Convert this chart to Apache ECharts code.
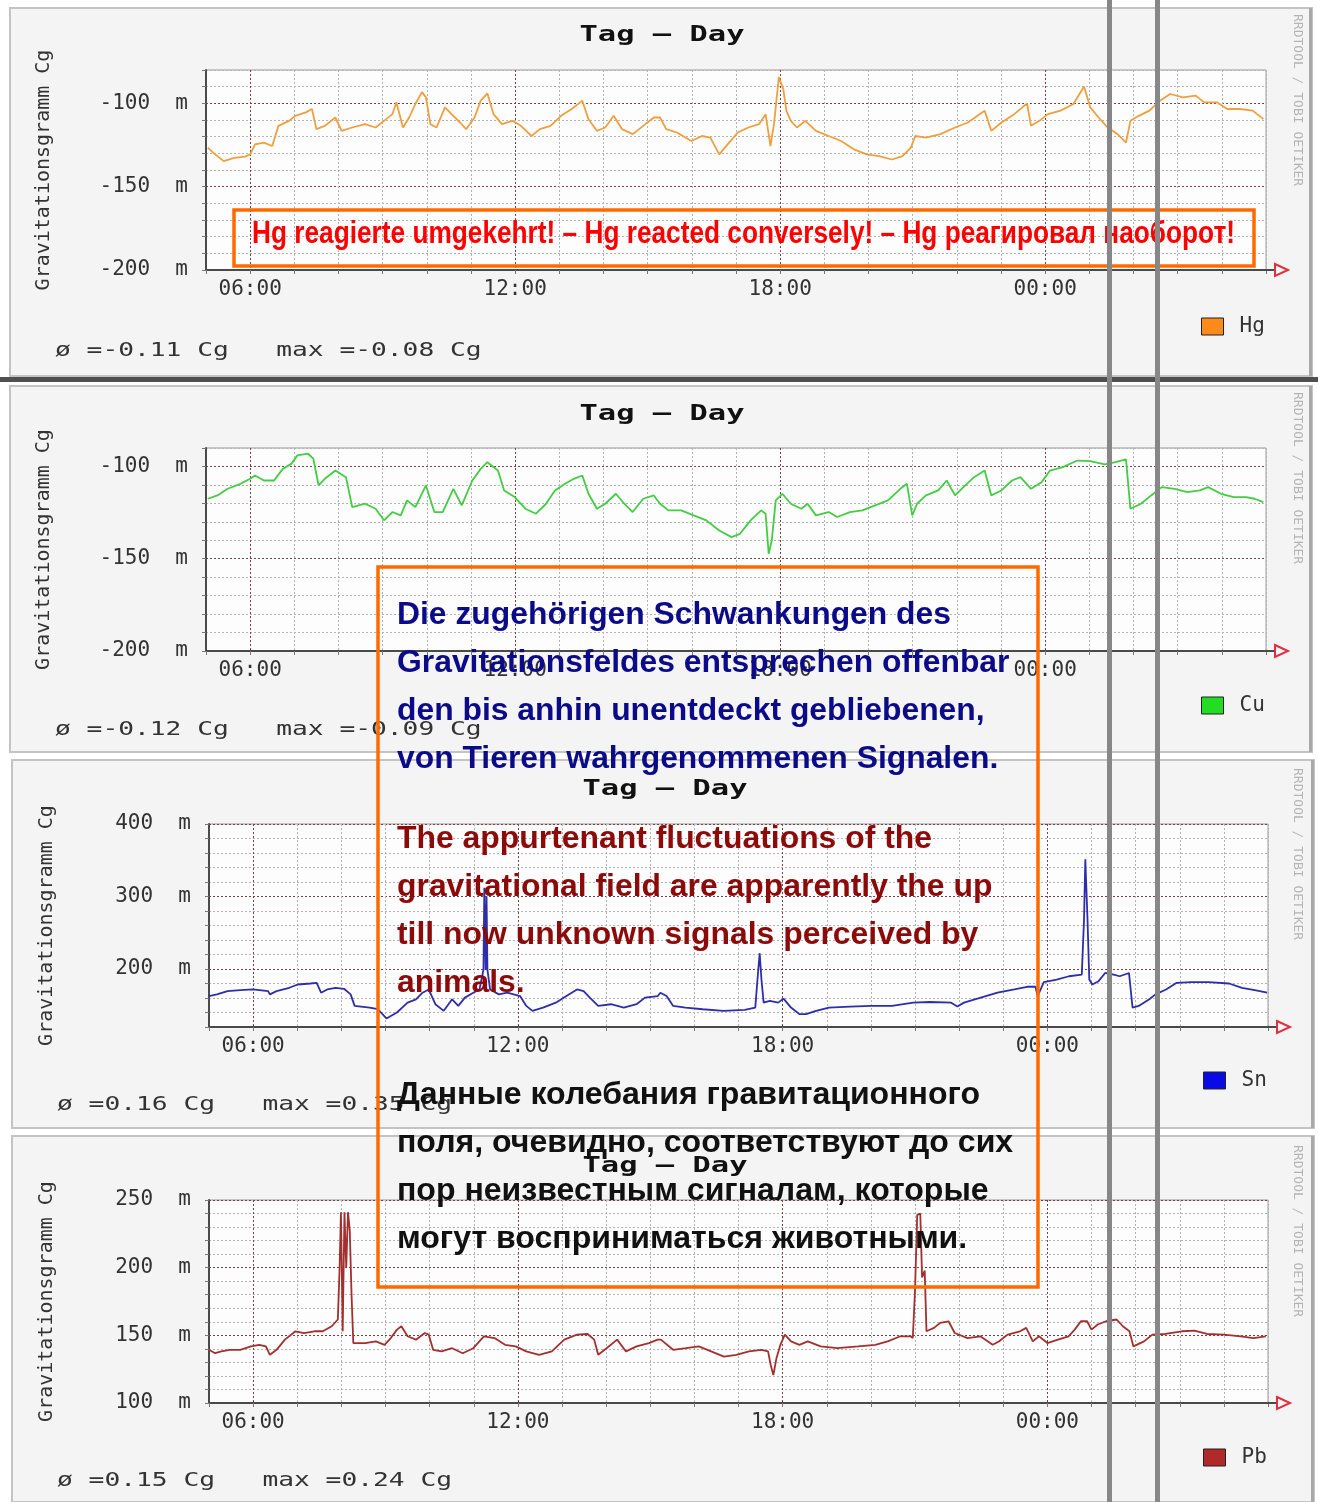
<!DOCTYPE html>
<html><head><meta charset="utf-8">
<script src="https://cdn.jsdelivr.net/npm/echarts@6/dist/echarts.min.js"></script>
<style>html,body{margin:0;padding:0;background:#fff}#c{width:1318px;height:1502px}</style>
</head><body><div id="c"></div><script>
// ---------------- DATA ----------------
const seriesNames = ['Hg', 'Cu', 'Sn', 'Pb'];
const hourLabels = ['06:00', '12:00', '18:00', '00:00'];

const hgHours = [5.04,5.16,5.40,5.64,5.88,6.00,6.11,6.31,6.50,6.64,6.88,7.02,7.26,7.40,7.50,7.69,7.93,8.07,8.31,8.60,8.84,9.03,9.22,9.31,9.46,9.60,9.74,9.89,9.98,10.08,10.22,10.41,10.60,10.75,10.89,11.08,11.22,11.37,11.51,11.70,11.94,12.13,12.37,12.56,12.80,13.04,13.28,13.52,13.66,13.85,14.04,14.23,14.42,14.66,14.90,15.14,
 15.28,15.42,15.66,15.99,16.23,16.42,16.62,16.81,17.04,17.28,17.52,17.67,17.78,17.86,17.97,18.07,18.14,18.24,18.38,18.57,18.81,19.10,19.38,19.67,19.96,20.24,20.53,20.77,20.96,21.06,21.30,21.63,21.96,22.25,22.63,22.78,23.01,23.30,23.59,23.68,23.87,24.06,24.35,24.64,24.88,25.02,25.21,25.40,25.64,25.83,25.93,26.12,26.36,26.60,26.83,27.12,27.41,27.60,27.89,28.12,28.41,28.70,28.94];
const hgValues = [-126.6,-129.6,-134.7,-132.7,-132,-130.6,-124.6,-123.6,-125.6,-113.5,-110.5,-107.5,-105.4,-103.4,-115.5,-113.5,-108.5,-116.5,-114.5,-112.5,-114.5,-110.5,-106.5,-99.4,-114.5,-108.5,-100.4,-93.3,-96.4,-112.5,-114.5,-102.4,-107.5,-111.5,-115.5,-108.5,-98.4,-94,-106.5,-112.5,-110.5,-113.5,-119.6,-115.5,-113.5,-107.5,-103.4,-98.4,-109.5,-116.5,-114.5,-107.5,-115.5,-118.5,-113.5,-108.5,
 -108.5,-115.5,-117.5,-122.6,-119.6,-120.6,-130.6,-124.6,-117.5,-114.5,-112.5,-106.5,-125.6,-112.5,-84.3,-91.3,-104.4,-110.5,-114.5,-110.5,-116.5,-119.6,-122.6,-127.6,-130.6,-131.7,-133.7,-131.7,-126.6,-119.6,-120.6,-118.5,-114.5,-111.5,-104.4,-116.5,-111.5,-106.5,-100,-113.5,-110.5,-106.5,-104.4,-100.4,-89.9,-102.4,-108.5,-114.1,-118.5,-123.6,-110.5,-107.5,-104.4,-98.4,-94.4,-96.4,-95.4,-99.4,-99.4,-103.4,-103.4,-104.4,-109.5];

const cuHours = [5.04,5.26,5.49,5.78,6.00,6.11,6.31,6.54,6.74,6.93,7.07,7.31,7.43,7.55,7.69,7.93,8.17,8.31,8.60,8.84,9.03,9.22,9.41,9.55,9.74,9.98,10.17,10.36,10.60,10.79,11.03,11.22,11.37,11.61,11.75,11.99,12.23,12.47,12.70,12.90,13.13,13.33,13.52,13.66,13.85,14.04,14.28,14.47,14.66,14.90,15.14,
 15.28,15.47,15.76,16.04,16.33,16.62,16.90,17.09,17.33,17.57,17.67,17.74,17.81,17.90,18.05,18.24,18.48,18.62,18.81,19.10,19.29,19.58,19.86,20.15,20.44,20.72,20.87,20.99,21.10,21.30,21.58,21.77,21.96,22.15,22.39,22.63,22.78,23.01,23.25,23.44,23.68,23.92,24.11,24.40,24.73,25.02,25.35,25.59,25.83,25.93,26.17,26.40,26.64,26.93,27.22,27.50,27.69,27.98,28.27,28.55,28.74,28.94];
const cuValues = [-117.5,-115.7,-112.1,-109.4,-106.7,-104.9,-107.6,-107.6,-101.3,-98.6,-94,-93.1,-95.8,-110.3,-106.7,-102.2,-105.8,-122,-120.2,-122.9,-129.2,-124.7,-126.5,-118.4,-122,-110.3,-124.7,-124.7,-112.1,-121.1,-107.6,-101.3,-97.7,-102.2,-113,-116.6,-122.9,-125.6,-120.2,-113,-109.4,-106.7,-104.9,-114.8,-122.9,-120.2,-114.8,-120.2,-124.7,-117.5,-115.7,
 -120.2,-123.8,-123.8,-126.5,-129.2,-134.7,-138.3,-136.5,-129.2,-123.8,-125.6,-147.3,-140.1,-118.4,-114.8,-120.2,-122.9,-120.2,-126.5,-124.7,-127.4,-124.7,-123.8,-121.1,-118.4,-112.1,-109.4,-126.5,-120.2,-115.7,-113,-107.6,-115.7,-111.2,-105.8,-102.2,-115.7,-113,-107.6,-105.8,-112.1,-108.5,-102.2,-100.4,-96.8,-97.1,-98.9,-97.7,-96.2,-122.9,-120.2,-115.7,-111.2,-112.1,-113.9,-113,-111.2,-114.8,-116.6,-116.6,-117.5,-119.3];

const snHours = [5.00,5.18,5.42,5.71,6.00,6.34,6.38,6.53,6.82,7.01,7.30,7.44,7.54,7.68,7.87,8.06,8.21,8.30,8.64,8.83,9.02,9.26,9.50,9.69,9.84,9.98,10.13,10.32,10.51,10.65,10.80,10.99,11.13,11.22,11.24,11.27,11.29,11.31,11.37,11.57,11.76,12.05,12.19,12.33,12.57,12.86,13.10,13.34,13.49,13.63,13.82,14.11,14.40,14.69,14.88,15.17,
 15.23,15.37,15.52,15.80,16.19,16.66,17.14,17.38,17.43,17.48,17.52,17.57,17.71,17.90,18.02,18.19,18.38,18.53,18.76,19.05,19.53,20.01,20.48,20.96,21.34,21.82,21.96,22.11,22.49,22.87,23.25,23.54,23.73,23.78,23.92,24.21,24.49,24.78,24.83,24.86,24.91,24.95,25.02,25.16,25.31,25.50,25.64,25.85,25.93,26.07,26.31,26.45,26.69,26.93,27.26,27.65,28.12,28.41,28.70,28.98];
const snValues = [162.7,165,169.5,170.9,171.8,169.5,165,169.5,174.1,178.6,180,180.9,167.3,171.8,174.1,172.7,165,149.1,146.8,144.5,131.8,140,153.6,158.2,167.3,171.8,151.4,142.3,158.2,149.1,160.5,167.3,171.8,199,312,199,300,199,171.8,165,167.3,162.7,149.1,142.3,146.8,153.6,162.7,171.8,169.5,160.5,149.1,151.4,146.8,151.4,160.5,162.7,
 167.3,162.7,149.1,146.8,144.5,142.3,143.6,146.8,185.5,221.8,185.5,153.6,155.9,153.6,159.1,146.8,137.7,137.7,142.3,146.8,148.2,149.1,149.1,153.6,154.5,153.6,148.2,153.6,160.5,167.3,171.8,175.5,175.5,162.7,181.8,185.5,190,192.3,267.3,351.4,267.3,185.5,178.6,183.2,194.5,192.3,190,194.5,146.8,149.1,158.2,165,171.8,180.9,181.8,181.8,180,174.1,170.9,167.3];

const pbHours = [5.00,5.14,5.28,5.47,5.71,5.95,6.14,6.29,6.38,6.53,6.72,6.96,7.15,7.39,7.58,7.78,7.92,7.96,7.99,8.03,8.07,8.11,8.15,8.19,8.23,8.27,8.54,8.78,8.98,9.12,9.26,9.36,9.50,9.69,9.89,9.98,10.08,10.27,10.51,10.75,10.99,11.23,11.47,11.71,11.95,12.19,12.48,12.77,13.05,13.34,13.58,13.73,13.82,14.01,14.25,14.45,14.69,14.97,15.17,
 15.24,15.52,15.81,16.10,16.38,16.67,16.95,17.24,17.52,17.67,17.73,17.79,17.86,17.95,18.05,18.19,18.38,18.57,18.86,19.24,19.71,20.10,20.38,20.67,20.90,20.95,21.00,21.05,21.12,21.16,21.22,21.26,21.43,21.57,21.76,21.90,22.19,22.48,22.76,22.90,23.10,23.38,23.52,23.67,23.81,24.00,24.24,24.48,24.62,24.76,24.90,25.00,25.14,25.33,25.57,25.71,25.86,25.95,26.19,26.38,26.67,27.05,27.33,27.62,28.00,28.38,28.67,28.95];
const pbValues = [139.3,136.8,138.1,139.3,139.3,141.8,143,141.8,135.6,139.3,146.8,153,151.7,153,153,156.7,161.7,200,241,153,241,200,241,227.6,180.3,144.3,144.3,145.5,143,148,154.2,156.7,149.3,146.8,151.7,150.5,139.3,138.1,140.5,136.8,140.5,149.3,148,143,141.8,138.1,135.6,138.1,146.8,150.5,151,146.8,135.6,140.5,146.8,138.1,141.8,144.3,146.8,
 146.8,139.3,140.5,141.8,138.1,134.3,135.6,138.1,139.3,138.1,128.1,120.6,133.1,143,150.5,145.5,143,145.5,141.8,140.5,141.8,143,145.5,149.3,149.3,148,182.8,238.8,240,192.8,197.8,153,155.5,159.2,160.4,151.7,148,149.3,143,145.5,150.5,153,155.5,145.5,149.3,144.3,146.8,149.3,154.2,160.4,160.4,154.2,158,160.4,161.7,156.7,153,141.8,145.5,150.5,151,153,153.5,151,150.5,149.3,148,149.3];

// y ranges: [min, max, grid step, labelled step]
const yRangeHg = [-200, -80, 10, 50];
const yRangeCu = [-200, -90, 10, 50];
const yRangeSn = [120, 400, 20, 100];
const yRangePb = [100, 250, 10, 50];

const statsTexts = ['ø =-0.11 Cg   max =-0.08 Cg', 'ø =-0.12 Cg   max =-0.09 Cg', 'ø =0.16 Cg   max =0.35 Cg', 'ø =0.15 Cg   max =0.24 Cg'];
const chartTitle = 'Tag – Day';
const axisTitle = 'Gravitationsgramm Cg';
const creditText = 'RRDTOOL / TOBI OETIKER';
const noteHg = 'Hg reagierte umgekehrt! – Hg reacted conversely! – Hg реагировал наоборот!';
const noteDe = ['Die zugehörigen Schwankungen des', 'Gravitationsfeldes entsprechen offenbar', 'den bis anhin unentdeckt gebliebenen,', 'von Tieren wahrgenommenen Signalen.'];
const noteEn = ['The appurtenant fluctuations of the', 'gravitational field are apparently the up', 'till now unknown signals perceived by', 'animals.'];
const noteRu = ['Данные колебания гравитационного', 'поля, очевидно, соответствуют до сих', 'пор неизвестным сигналам, которые', 'могут восприниматься животными.'];

// ---------------- LAYOUT / STYLE ----------------
const seriesHours = [hgHours, cuHours, snHours, pbHours];
const seriesValues = [hgValues, cuValues, snValues, pbValues];
const yRanges = [yRangeHg, yRangeCu, yRangeSn, yRangePb];
const lineColors = ['#eea040', '#44cc44', '#2e2eaa', '#a33030'];
const legendColors = ['#ff8a1c', '#22dd22', '#0a0ae6', '#b02a2a'];
const layout = [
  {panel: [10, 8, 1302, 368], grid: [206, 70, 1060, 200], titleX: 662, titleY: 35, statsX: 55, statsY: 351, legend: [1196, 311], creditY: 14},
  {panel: [10, 386, 1302, 366], grid: [206, 448, 1060, 203], titleX: 662, titleY: 414, statsX: 55, statsY: 730, legend: [1196, 690], creditY: 392},
  {panel: [12, 760, 1302, 368], grid: [209, 824, 1059, 203], titleX: 665, titleY: 789, statsX: 57, statsY: 1105, legend: [1198, 1065], creditY: 768},
  {panel: [12, 1136, 1302, 366], grid: [209, 1200, 1059, 203], titleX: 665, titleY: 1166, statsX: 57, statsY: 1481, legend: [1198, 1442], creditY: 1145}
];
const MONO = '"DejaVu Sans Mono", "Liberation Mono", monospace';
const minorCol = '#b4b4b4', majorCol = '#7e4040';

const mctx = document.createElement('canvas').getContext('2d');
function fitScale(text, font, target) { mctx.font = font; const w = mctx.measureText(text).width; return w ? target / w : 1; }
const isMul = (v, m) => Math.abs(((v % m) + m) % m) < 1e-6;

const chart = echarts.init(document.getElementById('c'), null, {renderer: 'canvas'});

const grids = layout.map(L => ({left: L.grid[0], top: L.grid[1], width: L.grid[2], height: L.grid[3], show: true,
  backgroundColor: '#fdfdfd', borderColor: '#9a9a9a', borderWidth: 1, containLabel: false, outerBoundsMode: 'none'}));

const xCycle = [];
for (let h = 5; h < 11; h++) xCycle.push(h % 6 === 0 ? majorCol : minorCol);

const xAxes = layout.map((L, i) => ({
  type: 'value', gridIndex: i, min: 5, max: 29, interval: 1,
  axisLine: {show: true, lineStyle: {color: '#4a4a4a', width: 2}},
  axisTick: {show: true, length: 4, lineStyle: {color: '#777'}},
  axisLabel: {margin: 9, fontFamily: MONO, fontSize: 21, color: '#333',
    formatter: v => (v % 6 === 0 ? hourLabels[(v / 6 - 1) % 4] : '')},
  splitLine: {show: true, lineStyle: {type: [2, 2], color: xCycle, width: 1}}
}));

const yAxes = yRanges.map((r, i) => {
  const cyc = [];
  const n = r[3] / r[2];
  for (let k = 0; k < n; k++) cyc.push(isMul(r[0] + k * r[2], r[3]) ? majorCol : minorCol);
  return {
    type: 'value', gridIndex: i, min: r[0], max: r[1], interval: r[2],
    name: axisTitle, nameLocation: 'middle', nameGap: 152, nameRotate: 90,
    nameTextStyle: {fontFamily: MONO, fontSize: 20, color: '#333'},
    axisLine: {show: true, lineStyle: {color: '#4a4a4a', width: 2}},
    axisTick: {show: true, length: 4, lineStyle: {color: '#777'}},
    axisLabel: {margin: 18, fontFamily: MONO, fontSize: 21, color: '#333',
      formatter: v => (isMul(v, r[3]) ? v + '  m' : '')},
    splitLine: {show: true, lineStyle: {type: [2, 2], color: cyc, width: 1}}
  };
});

const series = seriesNames.map((name, i) => ({
  name, type: 'line', xAxisIndex: i, yAxisIndex: i, showSymbol: false, symbol: 'none',
  color: lineColors[i], lineStyle: {color: lineColors[i], width: 1.8}, z: 3,
  data: seriesHours[i].map((h, k) => [h, seriesValues[i][k]])
}));

const legends = layout.map((L, i) => ({
  data: [{name: seriesNames[i], itemStyle: {color: legendColors[i], borderColor: '#222', borderWidth: 1}}],
  left: L.legend[0], top: L.legend[1], icon: 'rect', itemWidth: 22, itemHeight: 17, selectedMode: false,
  textStyle: {fontFamily: MONO, fontSize: 21, color: '#333', padding: [0, 0, 0, 11]}
}));

const g = [];
layout.forEach((L, i) => {
  const [px, py, pw, ph] = L.panel;
  g.push({type: 'rect', z: -20, shape: {x: px, y: py, width: pw, height: ph}, style: {fill: '#f4f4f4', stroke: '#c4c4c4', lineWidth: 2}});
  g.push({type: 'rect', z: -19, shape: {x: px + pw - 3, y: py, width: 3, height: ph}, style: {fill: '#a8a8a8'}});
  const tf = 'bold 22px ' + MONO;
  g.push({type: 'text', z: 5, x: L.titleX, y: L.titleY, scaleX: fitScale(chartTitle, tf, 165),
    style: {text: chartTitle, font: tf, fill: '#111', align: 'center', verticalAlign: 'middle'}});
  const sf = '20px ' + MONO;
  g.push({type: 'text', z: 5, x: L.statsX, y: L.statsY, scaleX: fitScale(statsTexts[i], sf, statsTexts[i].length * 15.8),
    style: {text: statsTexts[i], font: sf, fill: '#333', align: 'left', verticalAlign: 'middle'}});
  g.push({type: 'text', z: 5, x: 1297, y: L.creditY, rotation: -Math.PI / 2,
    style: {text: creditText, font: '13px ' + MONO, fill: '#b4b4b4', align: 'left', verticalAlign: 'middle'}});
  const [gl, gt, gw, gh] = L.grid;
  const ax = gl + gw, ay = gt + gh;
  g.push({type: 'line', z: 5, shape: {x1: ax, y1: ay, x2: ax + 9, y2: ay}, style: {stroke: '#4a4a4a', lineWidth: 2}});
  g.push({type: 'polygon', z: 5, shape: {points: [[ax + 9, ay - 6], [ax + 22, ay], [ax + 9, ay + 6]]}, style: {fill: 'none', stroke: '#e03040', lineWidth: 2}});
});
g.push({type: 'rect', z: -18, shape: {x: 0, y: 377, width: 1318, height: 5}, style: {fill: '#505050'}});

// annotation box 1
const f1 = 'bold 32px "Liberation Sans Narrow", "Liberation Sans", Arial, sans-serif';
g.push({type: 'rect', z: 50, shape: {x: 234, y: 210, width: 1020, height: 56}, style: {fill: 'none', stroke: '#ff6a00', lineWidth: 3.5}});
g.push({type: 'text', z: 51, x: 252, y: 234, scaleX: fitScale(noteHg, f1, 983),
  style: {text: noteHg, font: f1, fill: '#ff0000', align: 'left', verticalAlign: 'middle'}});

// annotation box 2
const f2 = 'bold 31px "Liberation Sans", Arial, sans-serif';
g.push({type: 'rect', z: 50, shape: {x: 378, y: 567, width: 660, height: 720}, style: {fill: 'none', stroke: '#ff6a00', lineWidth: 3.5}});
const blocks = [[noteDe, '#0b0b8a', 615, 554], [noteEn, '#8c0a0a', 839, 535], [noteRu, '#111111', 1095, 583]];
blocks.forEach(([lines, col, y0, w0]) => {
  const sc = fitScale(lines[0], f2, w0);
  lines.forEach((t, k) => g.push({type: 'text', z: 51, x: 397, y: y0 + k * 48, scaleX: sc,
    style: {text: t, font: f2, fill: col, align: 'left', verticalAlign: 'middle'}}));
});

// vertical gray lines
g.push({type: 'rect', z: 60, shape: {x: 1107, y: 0, width: 5, height: 1502}, style: {fill: '#878787'}});
g.push({type: 'rect', z: 60, shape: {x: 1155, y: 0, width: 5, height: 1502}, style: {fill: '#878787'}});

chart.setOption({
  animation: false,
  backgroundColor: '#ffffff',
  grid: grids, xAxis: xAxes, yAxis: yAxes, series, legend: legends,
  graphic: {elements: g}
});
</script></body></html>
